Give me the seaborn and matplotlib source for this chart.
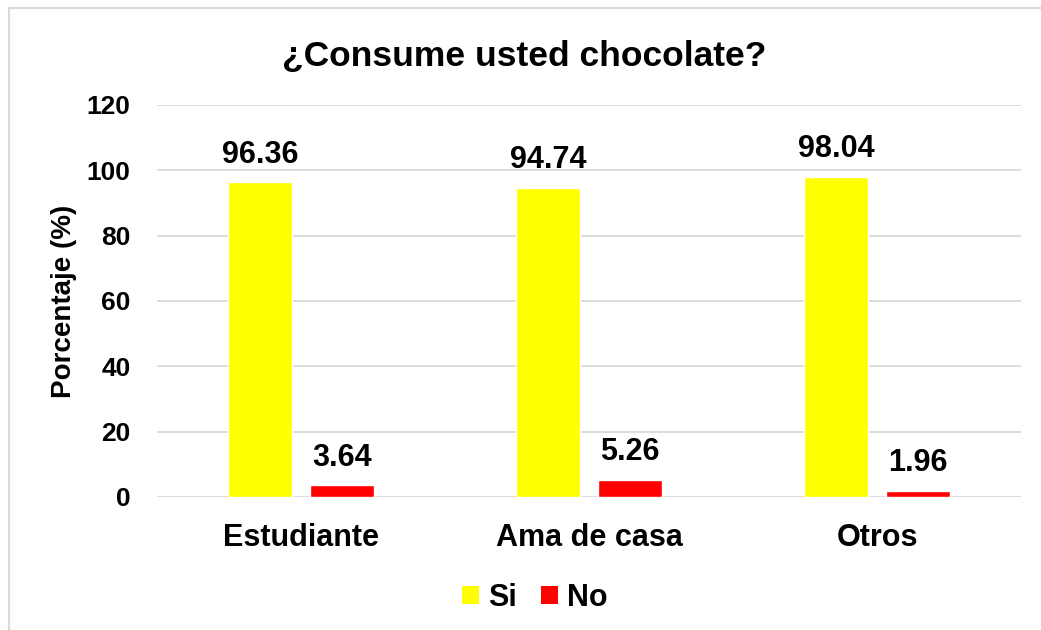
import matplotlib
matplotlib.use("Agg")
import matplotlib.pyplot as plt
import seaborn as sns
import pandas as pd
from matplotlib.patches import Rectangle, Patch

categories = ["Estudiante", "Ama de casa", "Otros"]
si_values = [96.36, 94.74, 98.04]
no_values = [3.64, 5.26, 1.96]
series_names = ["Si", "No"]
colors = ["#FFFF00", "#FF0000"]
yticks = [0, 20, 40, 60, 80, 100, 120]

df = pd.DataFrame({
    "cat": categories * 2,
    "serie": [series_names[0]] * 3 + [series_names[1]] * 3,
    "val": si_values + no_values,
})

sns.set_theme(style="white")
plt.rcParams["font.family"] = ["Liberation Sans", "DejaVu Sans"]
plt.rcParams["font.weight"] = "bold"
plt.rcParams["text.color"] = "black"
plt.rcParams["axes.labelcolor"] = "black"
plt.rcParams["xtick.color"] = "black"
plt.rcParams["ytick.color"] = "black"

fig = plt.figure(figsize=(10.41, 6.30), dpi=100)
ax = fig.add_axes([157/1041, 1-497/630, (1021-157)/1041, (497-105)/630])

sns.barplot(data=df, x="cat", y="val", hue="serie", palette=colors,
            width=0.57, gap=0.22, ax=ax, legend=False, saturation=1)

ax.set_ylim(0, 120)
ax.set_xlim(-0.5, 2.5)
ax.set_yticks(yticks)
ax.set_yticklabels([str(t) for t in yticks], fontsize=19, fontweight="bold")
ax.tick_params(axis="x", labelsize=22, pad=19, length=0, labelcolor="black")
ax.tick_params(axis="y", pad=19, length=0, labelcolor="black")
for lab in ax.get_xticklabels():
    lab.set_fontweight("bold")
ax.set_xlabel("")
ax.set_ylabel("Porcentaje (%)", fontsize=20, fontweight="bold", labelpad=7, color="black")
ax.yaxis.grid(True, color="#D9D9D9", linewidth=1.3)
ax.set_axisbelow(True)
for s in ax.spines.values():
    s.set_visible(False)

for cont in ax.containers:
    ax.bar_label(cont, labels=[f"{v:.2f}" for v in cont.datavalues],
                 fontsize=22, fontweight="bold", padding=9, color="black")

fig.text(524/1041, 1-56/630, "¿Consume usted chocolate?", ha="center", va="center",
         fontsize=25.5, fontweight="bold", color="black")

handles = [Patch(facecolor=c, edgecolor="none") for c in colors]
fig.legend(handles, series_names, loc="center", bbox_to_anchor=(535/1041, 1-598/630),
           ncol=2, frameon=False, prop={"size": 22, "weight": "bold"},
           handlelength=0.55, handleheight=0.55, handletextpad=0.3, columnspacing=0.8)

fig.patches.append(Rectangle((9/1041, -0.05), 1.2, 1-8/630+0.05, transform=fig.transFigure,
                             fill=False, edgecolor="#D9D9D9", linewidth=1.5))

fig.savefig("out.png", dpi=100)
